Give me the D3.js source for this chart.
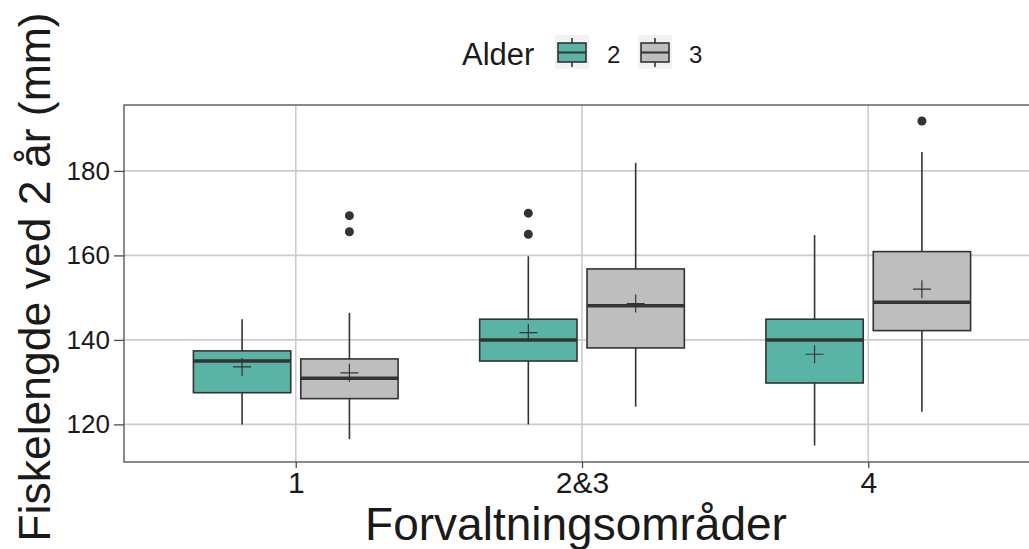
<!DOCTYPE html>
<html>
<head>
<meta charset="utf-8">
<script src="https://cdn.jsdelivr.net/npm/d3@7"></script>
<style>
  body { margin: 0; background: #fff; }
  text { font-family: "Liberation Sans", Arial, sans-serif; fill: #1a1a1a; }
</style>
</head>
<body>
<div id="chart"></div>
<script>
// —————————— DATA
var categories = ["1", "2&3", "4"];
var groups = ["2", "3"];
var groupColors = ["#5ab4a6", "#bebebe"];

// box stats per group, in category order
var lowWhisker2  = [120, 120, 115];
var q1_2         = [127.5, 135, 129.8];
var median2      = [135, 140, 140];
var q3_2         = [137.4, 144.9, 144.9];
var highWhisker2 = [144.9, 159.8, 164.8];
var mean2        = [133.6, 141.7, 136.6];
var outliers2    = [[], [165, 170], []];

var lowWhisker3  = [116.5, 124.2, 123];
var q1_3         = [126.1, 138.1, 142.2];
var median3      = [130.9, 148.1, 148.9];
var q3_3         = [135.5, 156.8, 160.9];
var highWhisker3 = [146.4, 181.9, 184.5];
var mean3        = [132.2, 148.6, 152];
var outliers3    = [[165.6, 169.4], [], [191.8]];

var yTicks = [120, 140, 160, 180];

// —————————— LAYOUT
var W = 1029, H = 549;
var margin = {top: 105, right: -11, bottom: 87, left: 124};
var width = W - margin.left - margin.right,
    height = H - margin.top - margin.bottom;

var svg = d3.select("#chart").append("svg")
    .attr("width", W)
    .attr("height", H);

svg.append("rect").attr("width", W).attr("height", H).attr("fill", "#fff");

var g = svg.append("g")
    .attr("transform", "translate(" + margin.left + "," + margin.top + ")");

var x = d3.scalePoint().domain(categories).range([0, width]).padding(0.6);
var y = d3.scaleLinear().domain([111.1, 195.6]).range([height, 0]);

var dodge = d3.scaleBand().domain(groups).range([-x.step() * 0.375, x.step() * 0.375]);
var boxW = x.step() * 0.34;

// build rows from arrays
var rows = [];
categories.forEach(function(c, i) {
  rows.push({cat: c, grp: "2", lo: lowWhisker2[i], q1: q1_2[i], med: median2[i], q3: q3_2[i], hi: highWhisker2[i], mean: mean2[i], out: outliers2[i]});
  rows.push({cat: c, grp: "3", lo: lowWhisker3[i], q1: q1_3[i], med: median3[i], q3: q3_3[i], hi: highWhisker3[i], mean: mean3[i], out: outliers3[i]});
});
var color = d3.scaleOrdinal().domain(groups).range(groupColors);
function cx(d) { return x(d.cat) + dodge(d.grp) + dodge.bandwidth() / 2; }

// —————————— GRID
g.selectAll(".hgrid").data(yTicks).enter().append("line")
  .attr("x1", 0).attr("x2", width)
  .attr("y1", d => y(d)).attr("y2", d => y(d))
  .attr("stroke", "#cccccc").attr("stroke-width", 1.6);
g.selectAll(".vgrid").data(categories).enter().append("line")
  .attr("x1", d => x(d)).attr("x2", d => x(d))
  .attr("y1", 0).attr("y2", height)
  .attr("stroke", "#cccccc").attr("stroke-width", 1.6);

// —————————— BOXES
var box = g.selectAll(".box").data(rows).enter().append("g");

box.append("line")
  .attr("x1", cx).attr("x2", cx)
  .attr("y1", d => y(d.lo)).attr("y2", d => y(d.hi))
  .attr("stroke", "#333").attr("stroke-width", 1.6);

box.append("rect")
  .attr("x", d => cx(d) - boxW / 2).attr("width", boxW)
  .attr("y", d => y(d.q3)).attr("height", d => y(d.q1) - y(d.q3))
  .attr("fill", d => color(d.grp))
  .attr("stroke", "#333").attr("stroke-width", 1.6);

box.append("line")
  .attr("x1", d => cx(d) - boxW / 2).attr("x2", d => cx(d) + boxW / 2)
  .attr("y1", d => y(d.med)).attr("y2", d => y(d.med))
  .attr("stroke", "#333").attr("stroke-width", 3.5);

box.selectAll(".out").data(d => d.out.map(v => ({v: v, d: d}))).enter().append("circle")
  .attr("cx", o => cx(o.d)).attr("cy", o => y(o.v)).attr("r", 4.5)
  .attr("fill", "#333");

// mean cross
box.append("path")
  .attr("d", d => "M" + (cx(d) - 9) + "," + y(d.mean) + "h18M" + cx(d) + "," + (y(d.mean) - 9) + "v18")
  .attr("stroke", "#333").attr("stroke-width", 1.2).attr("fill", "none");

// —————————— PANEL BORDER & AXES
g.append("rect").attr("width", width).attr("height", height)
  .attr("fill", "none").attr("stroke", "#4d4d4d").attr("stroke-width", 1.3);

var yAxis = g.append("g").call(d3.axisLeft(y).tickValues(yTicks).tickSize(10).tickPadding(4));
yAxis.select(".domain").remove();
yAxis.selectAll(".tick line").attr("stroke", "#4d4d4d").attr("stroke-width", 1.3);
yAxis.selectAll(".tick text").attr("font-size", 26).attr("fill", "#1a1a1a")
  .style("font-family", "Liberation Sans, Arial, sans-serif");

var xAxis = g.append("g").attr("transform", "translate(0," + height + ")")
  .call(d3.axisBottom(x).tickSize(6).tickPadding(4));
xAxis.select(".domain").remove();
xAxis.selectAll(".tick line").attr("stroke", "#4d4d4d").attr("stroke-width", 1.3);
xAxis.selectAll(".tick text").attr("font-size", 30).attr("fill", "#1a1a1a")
  .style("font-family", "Liberation Sans, Arial, sans-serif");

// titles
svg.append("text")
  .attr("x", 576).attr("y", 540)
  .attr("text-anchor", "middle").attr("font-size", 46)
  .text("Forvaltningsområder");

svg.append("text")
  .attr("transform", "translate(50," + 277 + ") rotate(-90)")
  .attr("text-anchor", "middle").attr("font-size", 44.5)
  .text("Fiskelengde ved 2 år (mm)");

// —————————— LEGEND
var legend = svg.append("g");
legend.append("text").attr("x", 462).attr("y", 65).attr("font-size", 31).text("Alder");

var keyX = [555, 638];
var labelX = [607, 689];
groups.forEach(function(grp, i) {
  var k = legend.append("g").attr("transform", "translate(" + keyX[i] + ",35)");
  k.append("rect").attr("width", 34).attr("height", 34).attr("fill", "#f2f2f2");
  k.append("line").attr("x1", 17).attr("x2", 17).attr("y1", 3).attr("y2", 32)
    .attr("stroke", "#333").attr("stroke-width", 1.6);
  k.append("rect").attr("x", 3).attr("y", 8).attr("width", 28).attr("height", 19)
    .attr("fill", color(grp)).attr("stroke", "#333").attr("stroke-width", 1.6);
  k.append("line").attr("x1", 3).attr("x2", 31).attr("y1", 17.5).attr("y2", 17.5)
    .attr("stroke", "#333").attr("stroke-width", 2);
  legend.append("text").attr("x", labelX[i]).attr("y", 63).attr("font-size", 24).text(grp);
});
</script>
</body>
</html>
